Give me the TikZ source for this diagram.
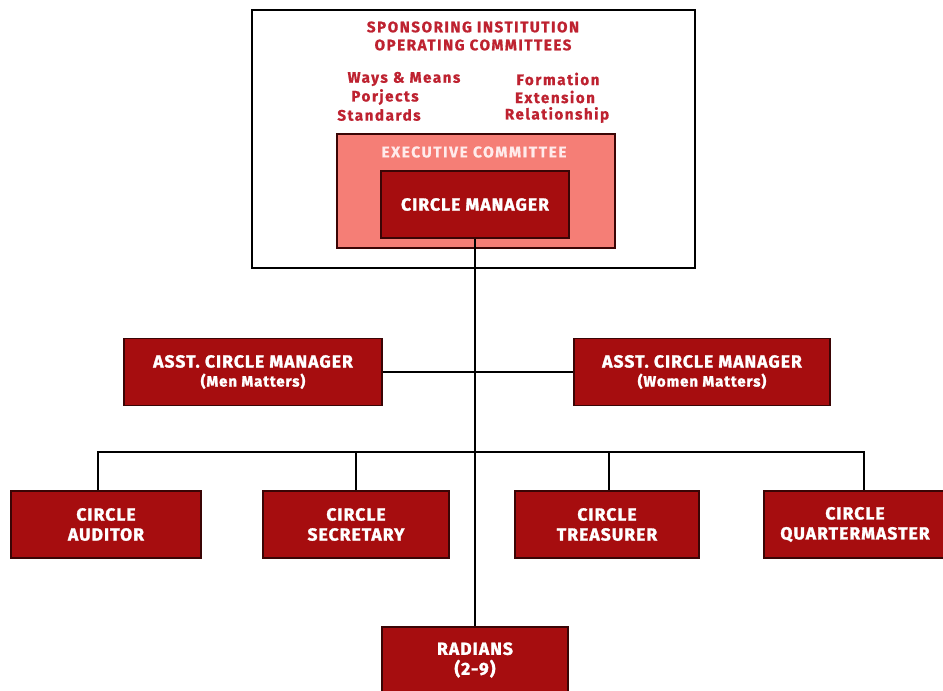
\documentclass[tikz,border=0pt]{standalone}
\usepackage{fontspec}
\setmainfont{Fira Sans}
\newfontfamily\boxfont{Fira Sans}[LetterSpace=6,BoldFeatures={FakeBold=1.6}]
\newfontfamily\topfont{Fira Sans}[LetterSpace=10,BoldFeatures={FakeBold=0.8}]
\definecolor{boxred}{HTML}{A60D0F}
\definecolor{boxedge}{HTML}{3A0505}
\definecolor{execfill}{HTML}{F57E76}
\definecolor{titlered}{HTML}{BE2230}
\begin{document}
\begin{tikzpicture}[x=1pt,y=-1pt,
  redbox/.style={draw=boxedge,line width=1.6pt,fill=boxred,text=white,font=\boxfont\bfseries\fontsize{17.5}{17}\selectfont,align=center,inner sep=0pt},
  conn/.style={draw=black,line width=1.6pt},
  toptxt/.style={text=titlered,font=\topfont\bfseries\fontsize{15.2}{18}\selectfont,inner sep=0pt}]
\useasboundingbox (0,0) rectangle (943,691);
\fill[white] (0,0) rectangle (943,691);
% outer frame
\node[draw=black,line width=2pt,minimum width=443pt,minimum height=258pt,inner sep=0pt] (outer) at (473.5,139) {};
\node[toptxt,align=center] (title) at (473,36) {SPONSORING INSTITUTION\\OPERATING COMMITTEES};
\node[toptxt] (ways) at (404,79) {Ways \& Means};
\node[toptxt] (porj) at (385,97) {Porjects};
\node[toptxt] (stand) at (379,115) {Standards};
\node[toptxt] (form) at (558,79) {Formation};
\node[toptxt] (ext) at (555,97) {Extension};
\node[toptxt] (rel) at (557,115) {Relationship};
% executive committee
\node[draw=boxedge,line width=2pt,fill=execfill,minimum width=278pt,minimum height=114pt,inner sep=0pt] (exec) at (476,191) {};
\node[text=red!8!white,font=\topfont\bfseries\fontsize{15.5}{18}\selectfont,inner sep=0pt] (exectxt) at (474,152) {EXECUTIVE COMMITTEE};
\node[redbox,minimum width=188pt,minimum height=67pt] (cm) at (475,204.5) {CIRCLE MANAGER};
% assistants
\node[redbox,minimum width=258pt,minimum height=67pt] (al) at (253,372) {ASST. CIRCLE MANAGER\\[2pt]{\fontsize{15}{16}\selectfont(Men Matters)}};
\node[redbox,minimum width=256pt,minimum height=67pt] (ar) at (702,372) {ASST. CIRCLE MANAGER\\[2pt]{\fontsize{15}{16}\selectfont(Women Matters)}};
% officers
\node[redbox,minimum width=190pt,minimum height=67pt] (aud) at (106,524.5) {CIRCLE\\[3pt]AUDITOR};
\node[redbox,minimum width=186pt,minimum height=67pt] (sec) at (356,524.5) {CIRCLE\\[3pt]SECRETARY};
\node[redbox,minimum width=184pt,minimum height=67pt] (tre) at (607,524.5) {CIRCLE\\[3pt]TREASURER};
\node[redbox,minimum width=182pt,minimum height=67pt] (qm) at (855,524.5) {CIRCLE\\[3pt]QUARTERMASTER};
\node[redbox,minimum width=186pt,minimum height=67pt] (rad) at (475,660.5) {};
\node[text=white,font=\boxfont\bfseries\fontsize{17.5}{17}\selectfont,align=center,inner sep=0pt] (radtxt) at (475,660) {RADIANS\\[3pt](2-9)};
\coordinate (bus) at (475,452);
\coordinate (audtop) at ([xshift=-8pt]aud.north);
\coordinate (tretop) at ([xshift=2pt]tre.north);
\coordinate (qmtop) at ([xshift=9pt]qm.north);
% connectors
\draw[conn] (cm.south) -- (rad.north);
\draw[conn] (al.east) -- (ar.west);
\draw[conn] (audtop) -- (audtop |- bus) -- (qmtop |- bus) -- (qmtop);
\draw[conn] (sec.north) -- (sec.north |- bus);
\draw[conn] (tretop) -- (tretop |- bus);
\end{tikzpicture}
\end{document}
